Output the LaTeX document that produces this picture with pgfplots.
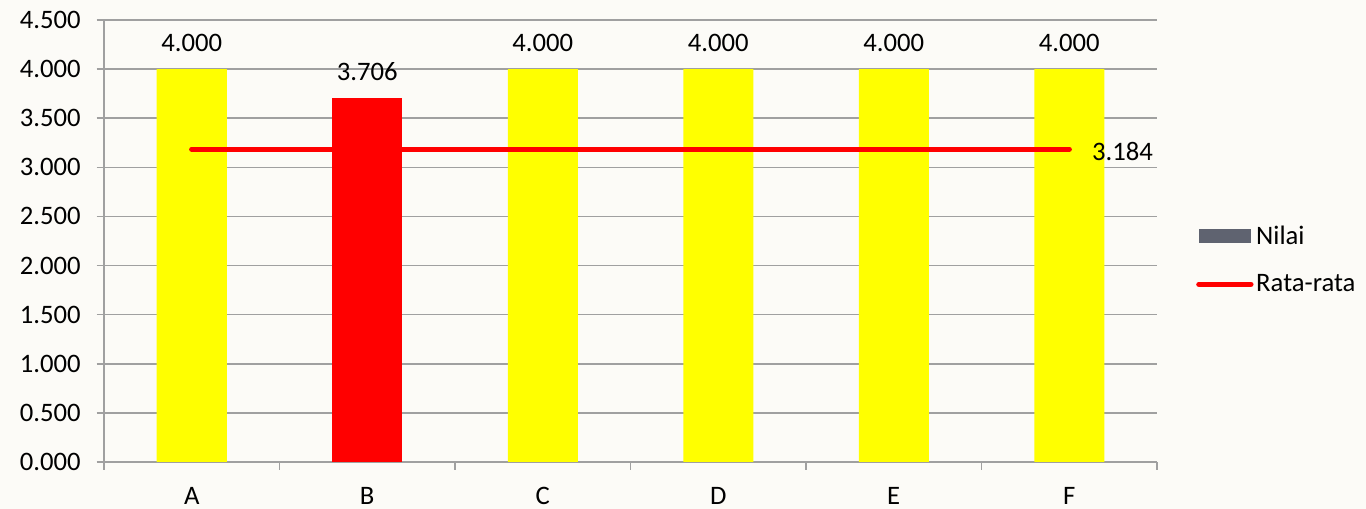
\documentclass[border=0pt]{standalone}
\usepackage{pgfplots}
\pgfplotsset{compat=1.18}
\usepackage{fontspec}
\setmainfont{Carlito}
\definecolor{bg}{HTML}{FCFBF7}
\definecolor{gridc}{HTML}{A0A0A0}
\definecolor{nilaigray}{HTML}{5F6370}
\definecolor{ylw}{HTML}{FFFF00}
\definecolor{rd}{HTML}{FF0000}
\tikzset{
  mynum/.style={/pgf/number format/fixed, /pgf/number format/fixed zerofill, /pgf/number format/precision=3, /pgf/number format/use period, /pgf/number format/1000 sep={}},
}
\begin{document}
\begin{tikzpicture}
\fill[bg] (0,0) rectangle (1024.5pt,381.75pt);
\useasboundingbox (0,0) rectangle (1024.5pt,381.75pt);
\begin{axis}[
  at={(78pt,35.25pt)}, anchor=south west,
  scale only axis, width=789.75pt, height=331.5pt,
  xmin=-0.5, xmax=5.5, ymin=0, ymax=4.5,
  axis x line=bottom, axis y line=left,
  axis line style={-, gridc, line width=1.1pt},
  xtick={0,1,2,3,4,5},
  xticklabels={A,B,C,D,E,F},
  major x tick style={draw=none},
  minor xtick={-0.5,0.5,1.5,2.5,3.5,4.5,5.5},
  minor x tick style={gridc, line width=1.1pt},
  minor tick length=6pt,
  ytick={0,0.5,...,4.5},
  major y tick style={gridc, line width=1.1pt},
  major tick length=5.5pt,
  tick align=outside,
  ymajorgrids, grid style={gridc, line width=1.1pt},
  /pgf/number format/assume math mode=true,
  yticklabel style={mynum, xshift=-8.5pt},
  ticklabel style={font=\fontsize{20}{24}\selectfont, text=black},
  xticklabel style={yshift=-10pt},
  legend style={at={(1.037,0.457)}, anchor=west, draw=none, fill=none, font=\fontsize{20}{24}\selectfont, row sep=17pt, inner sep=0pt},
  legend cell align=left,
  clip=false,
]
\addplot[ybar, bar width=52.5pt, fill=ylw, draw=none,
  nodes near coords,
  nodes near coords style={mynum, anchor=center, yshift=19.5pt, font=\fontsize{20}{24}\selectfont, text=black},
  legend image code/.code={\fill[nilaigray] (0pt,-5.25pt) rectangle (39pt,5.25pt);}]
  coordinates {(0,4.000) (2,4.000) (3,4.000) (4,4.000) (5,4.000)};
\addlegendentry{Nilai}
\addplot[ybar, bar width=52.5pt, fill=rd, draw=none, forget plot,
  nodes near coords,
  nodes near coords style={mynum, anchor=center, yshift=19.5pt, font=\fontsize{20}{24}\selectfont, text=black}]
  coordinates {(1,3.706)};
\addplot[rd, line width=4pt, line cap=round, mark=none,
  legend image code/.code={\draw[rd, line width=4pt, line cap=round] (0pt,0pt) -- (39pt,0pt);}]
  coordinates {(0,3.184) (1,3.184) (2,3.184) (3,3.184) (4,3.184) (5,3.184)};
\addlegendentry{Rata-rata}
\node[anchor=west, inner sep=0pt, xshift=17pt, yshift=-2pt, font=\fontsize{20}{24}\selectfont] at (axis cs:5,3.184) {3.184};
\end{axis}
\end{tikzpicture}
\end{document}
